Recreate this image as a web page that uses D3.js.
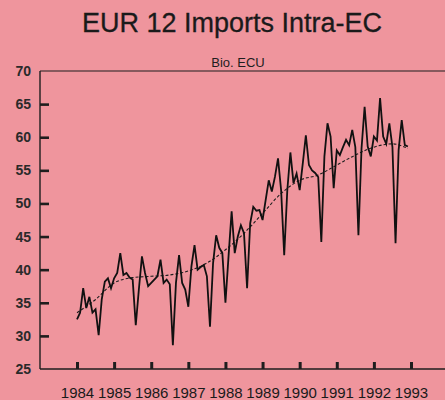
<!DOCTYPE html>
<html>
<head>
<meta charset="utf-8">
<script src="https://cdn.jsdelivr.net/npm/d3@7"></script>
<style>
  html, body { margin: 0; padding: 0; background: #ef959d; }
  svg { display: block; }
</style>
</head>
<body>
<svg id="chart" width="445" height="400"></svg>
<script>
// ---- data ----
const title = "EUR 12 Imports Intra-EC";
const unitLabel = "Bio. ECU";
const startYear = 1984;
const yearTicks = [1984, 1985, 1986, 1987, 1988, 1989, 1990, 1991, 1992, 1993];
const yTicks = [25, 30, 35, 40, 45, 50, 55, 60, 65, 70];

// monthly imports, Jan 1984 .. Dec 1992 (Bio. ECU)
const imports1984 = [32.5, 33.5, 37.2, 34.2, 35.9, 33.5, 34.0, 30.1, 35.5, 38.2, 38.7, 37.2];
const imports1985 = [38.7, 39.5, 42.5, 39.2, 39.5, 38.8, 38.5, 31.6, 37.0, 42.0, 39.5, 37.5];
const imports1986 = [38.0, 38.5, 39.0, 41.5, 38.0, 38.5, 37.8, 28.6, 38.0, 42.2, 38.0, 37.0];
const imports1987 = [34.4, 40.5, 43.7, 40.0, 40.4, 40.7, 39.0, 31.4, 41.0, 45.2, 43.3, 42.5];
const imports1988 = [35.0, 42.0, 48.8, 42.5, 45.0, 46.7, 45.5, 37.2, 47.0, 49.5, 48.9, 49.0];
const imports1989 = [47.5, 50.5, 53.5, 51.8, 54.0, 56.8, 52.0, 42.2, 52.0, 57.7, 53.1, 54.5];
const imports1990 = [52.0, 56.0, 60.3, 55.8, 55.0, 54.6, 54.0, 44.2, 57.1, 62.1, 60.1, 52.3];
const imports1991 = [58.0, 57.3, 58.5, 59.6, 58.8, 61.1, 58.5, 45.2, 58.3, 64.6, 58.6, 57.1];
const imports1992 = [60.1, 59.5, 65.9, 60.1, 59.0, 62.1, 58.5, 44.0, 58.1, 62.6, 58.8, 58.6];

// trend (dashed), read every six months: month offset from Jan 1984 and value
const trendMonths = [0, 6, 12, 18, 24, 30, 36, 42, 48, 54, 60, 66, 72, 78, 84, 90, 96, 102, 107];
const trendValues = [33.5, 35.5, 38.0, 38.8, 39.0, 39.2, 39.8, 41.0, 43.0, 45.5, 48.5, 51.5, 53.5, 54.3, 55.8, 57.3, 58.5, 59.0, 58.3];

// ---- build ----
const monthly = [].concat(imports1984, imports1985, imports1986, imports1987, imports1988,
                          imports1989, imports1990, imports1991, imports1992)
  .map((v, i) => ({ t: startYear + i / 12, v }));
const trend = trendMonths.map((m, i) => ({ t: startYear + m / 12, v: trendValues[i] }));

const svg = d3.select("#chart");
const W = 445, H = 400;
const mLeft = 40, mTop = 71, mBottom = 369;

const x = d3.scaleLinear().domain([1984, 1993]).range([77, 411]);
const y = d3.scaleLinear().domain([25, 70]).range([mBottom, mTop]);

const ink = "#1e1e1e";
const font = "Liberation Sans, Arial, sans-serif";

// title
svg.append("text")
  .attr("x", 232).attr("y", 32)
  .attr("text-anchor", "middle")
  .attr("font-family", font)
  .attr("font-size", 27)
  .attr("fill", "#1a1a1a")
  .attr("stroke", "#1a1a1a").attr("stroke-width", 0.3)
  .text(title);

svg.append("text")
  .attr("x", 238).attr("y", 67)
  .attr("text-anchor", "middle")
  .attr("font-family", font)
  .attr("font-size", 13)
  .attr("fill", ink)
  .text(unitLabel);

// frame lines
svg.append("line").attr("x1", mLeft).attr("x2", W).attr("y1", mTop).attr("y2", mTop)
  .attr("stroke", ink).attr("stroke-width", 1.2);
svg.append("line").attr("x1", mLeft).attr("x2", W).attr("y1", mBottom).attr("y2", mBottom)
  .attr("stroke", ink).attr("stroke-width", 1.4);
svg.append("line").attr("x1", mLeft).attr("x2", mLeft).attr("y1", mTop).attr("y2", mBottom)
  .attr("stroke", ink).attr("stroke-width", 1.4);

// y axis: inward ticks drawn by the axis itself (negative size)
const yAxis = d3.axisLeft(y).tickValues(yTicks).tickSize(-9).tickPadding(9).tickFormat(d3.format("d"));
const gy = svg.append("g").attr("transform", `translate(${mLeft},0)`).style("color", ink).call(yAxis);
gy.select(".domain").remove();
gy.selectAll(".tick line")
  .attr("stroke-width", 2.6)
  .attr("stroke-opacity", d => (d > 25 && d < 70) ? 1 : 0);
gy.selectAll(".tick text")
  .attr("font-family", font)
  .attr("font-size", 14).attr("font-weight", "bold")
  .attr("fill", "#2a2a2a");

// x axis: upward ticks drawn by the axis itself (negative size)
const xAxis = d3.axisBottom(x).tickValues(yearTicks).tickSize(-7).tickPadding(18).tickFormat(d3.format("d"));
const gx = svg.append("g").attr("transform", `translate(0,${mBottom})`).style("color", ink).call(xAxis);
gx.select(".domain").remove();
gx.selectAll(".tick line").attr("stroke-width", 3);
gx.selectAll(".tick text")
  .attr("font-family", font)
  .attr("font-size", 15)
  .attr("fill", "#1a1a1a");

// trend dashed
svg.append("path")
  .datum(trend)
  .attr("fill", "none")
  .attr("stroke", ink)
  .attr("stroke-width", 1.1)
  .attr("stroke-dasharray", "3,2")
  .attr("d", d3.line().x(d => x(d.t)).y(d => y(d.v)).curve(d3.curveMonotoneX));

// monthly line
svg.append("path")
  .datum(monthly)
  .attr("fill", "none")
  .attr("stroke", "#111")
  .attr("stroke-width", 1.8)
  .attr("stroke-linejoin", "miter")
  .attr("d", d3.line().x(d => x(d.t)).y(d => y(d.v)));
</script>
</body>
</html>
